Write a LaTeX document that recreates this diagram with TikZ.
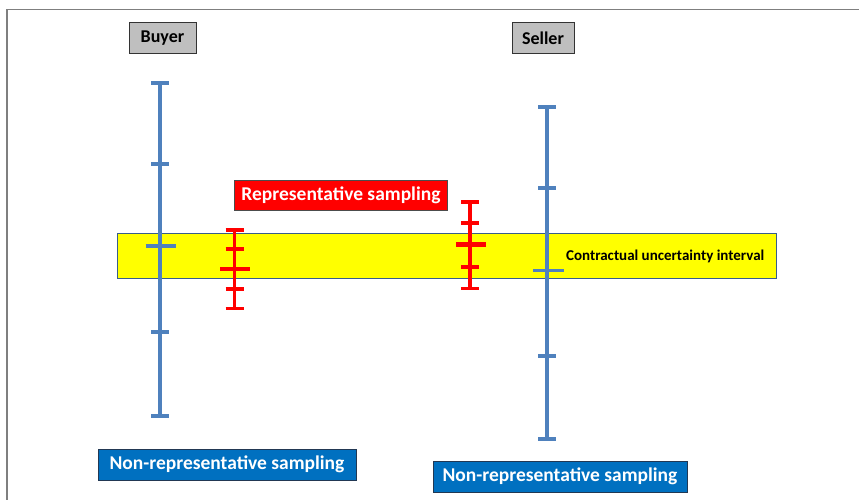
\documentclass[tikz,border=0pt]{standalone}
\usepackage{fontspec}
\setmainfont{Carlito}
\usepackage{xcolor}
\usepackage{tikz}

\definecolor{barblue}{HTML}{4F81BD}
\definecolor{boxblue}{HTML}{0070C0}
\definecolor{edgeblue}{HTML}{385D8A}
\definecolor{framegray}{HTML}{7F7F7F}
\definecolor{bandyellow}{HTML}{FFFF00}

\begin{document}
\begin{tikzpicture}[x=1pt,y=-1pt]

        \tikzstyle{partybox}=[draw=black!80,fill=black!25,line width=0.8pt,inner sep=0pt,minimum width=67pt,minimum height=31pt,font=\fontsize{18}{20}\selectfont\bfseries]
        \tikzstyle{labelbox}=[draw=black!70,line width=0.8pt,inner sep=0pt,text=white,font=\fontsize{19.5}{21}\selectfont\bfseries]
        \tikzstyle{bluebar}=[barblue,line width=3.5pt]
        \tikzstyle{redbar}=[red,line width=3.5pt]

        \useasboundingbox (0,0) rectangle (859,500);

        %% frame, cut off right and below
        \draw[framegray,line width=1.5pt] (7,500) -- (7,9.5) -- (859,9.5);

        %% contractual interval
        \node[draw=edgeblue,fill=bandyellow,line width=1.6pt,minimum width=659pt,minimum height=45pt,inner sep=0pt] (band) at (447,256) {};
        \node[font=\fontsize{15}{17}\selectfont\bfseries,anchor=west,inner sep=0pt] (bandtext) at (566,256) {Contractual uncertainty interval};

        %% Buyer
        \node[partybox] (buyer) at (162.5,38) {Buyer};
        \begin{scope}[bluebar]
            \draw (160,83) -- (160,416);
            \draw (151,83) -- (169,83);
            \draw (151,416) -- (169,416);
            \foreach \y in {164,332}
                \draw (151,\y) -- (169,\y);
            \draw (145.5,246) -- (175.5,246);
        \end{scope}

        %% Seller
        \node[partybox,minimum width=62pt] (seller) at (543,38) {Seller};
        \begin{scope}[bluebar]
            \draw (547,107) -- (547,439);
            \draw (538,107) -- (556,107);
            \draw (538,439) -- (556,439);
            \foreach \y in {188,356}
                \draw (538,\y) -- (556,\y);
            \draw (533,270.5) -- (564,270.5);
        \end{scope}

        %% representative sampling
        \node[labelbox,fill=red,minimum width=213pt,minimum height=30pt] (rep) at (341,195.5) {Representative sampling};
        \begin{scope}[redbar]
            \draw (234.5,230) -- (234.5,308.5);
            \draw (225.5,230) -- (243.5,230);
            \draw (225.5,308.5) -- (243.5,308.5);
            \foreach \y in {249,289}
                \draw (225.5,\y) -- (243.5,\y);
            \draw[line width=4.5pt] (220,269) -- (250,269);

            \draw (470,202) -- (470,288.5);
            \draw (461,202) -- (479,202);
            \draw (461,288.5) -- (479,288.5);
            \foreach \y in {223,267}
                \draw (461,\y) -- (479,\y);
            \draw[line width=4.5pt] (456,244.5) -- (485.5,244.5);
        \end{scope}

        %% non-representative sampling
        \node[labelbox,fill=boxblue,draw=edgeblue!60!black,minimum width=258pt,minimum height=31pt] (nonrepa) at (227,464.5) {Non-representative sampling};
        \node[labelbox,fill=boxblue,draw=edgeblue!60!black,minimum width=254pt,minimum height=31pt] (nonrepb) at (560,476.5) {Non-representative sampling};

\end{tikzpicture}
\end{document}
